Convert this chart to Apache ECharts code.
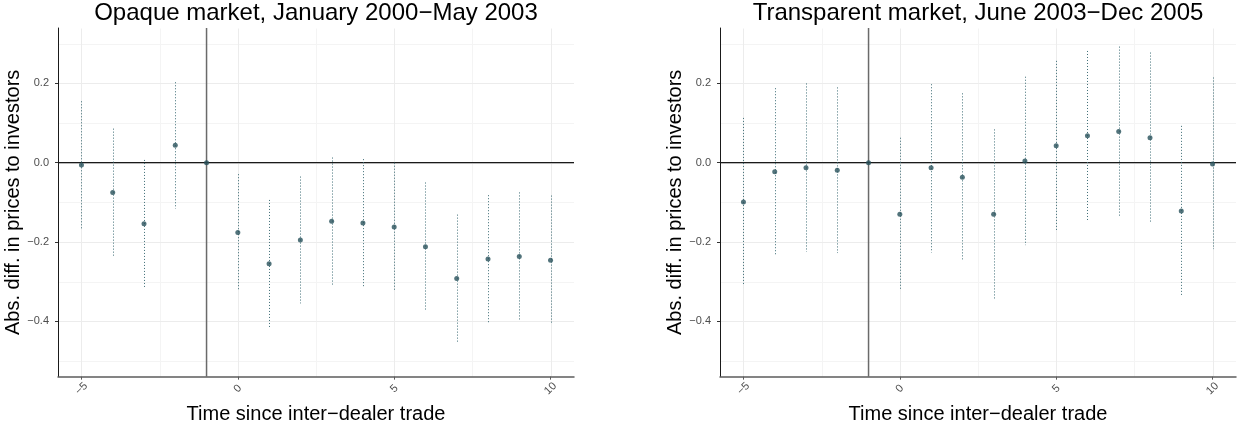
<!DOCTYPE html>
<html>
<head>
<meta charset="utf-8">
<script src="https://cdn.jsdelivr.net/npm/echarts@6/dist/echarts.min.js"></script>
<style>
  html, body { margin: 0; padding: 0; background: #ffffff; }
  #chart { width: 1239px; height: 429px; }
</style>
</head>
<body>
<div id="chart"></div>
<script>
// Event time relative to the inter-dealer trade
const steps = [-5, -4, -3, -2, -1, 0, 1, 2, 3, 4, 5, 6, 7, 8, 9, 10];

// Opaque market, January 2000 - May 2003: estimate and confidence band
const opaqueEst  = [-0.006, -0.075, -0.154, 0.044, 0, -0.176, -0.255, -0.195, -0.148, -0.152, -0.162, -0.212, -0.292, -0.243, -0.237, -0.246];
const opaqueLow  = [-0.167, -0.235, -0.315, -0.116, null, -0.323, -0.416, -0.355, -0.309, -0.313, -0.324, -0.373, -0.454, -0.405, -0.398, -0.408];
const opaqueHigh = [0.155, 0.086, 0.007, 0.203, null, -0.029, -0.094, -0.035, 0.013, 0.009, 0.000, -0.050, -0.131, -0.082, -0.075, -0.083];

// Transparent market, June 2003 - Dec 2005
const transEst  = [-0.099, -0.023, -0.013, -0.019, 0, -0.130, -0.013, -0.037, -0.130, 0.004, 0.043, 0.068, 0.079, 0.063, -0.122, -0.003];
const transLow  = [-0.310, -0.235, -0.225, -0.228, null, -0.323, -0.227, -0.248, -0.345, -0.208, -0.171, -0.148, -0.136, -0.153, -0.336, -0.218];
const transHigh = [0.113, 0.188, 0.200, 0.190, null, 0.063, 0.198, 0.175, 0.084, 0.217, 0.257, 0.282, 0.293, 0.278, 0.093, 0.215];

// Axis ticks and grid
const xTicks = [-5, 0, 5, 10];
const xMinorTicks = [-2.5, 2.5, 7.5];
const yTicks = [-0.4, -0.2, 0.0, 0.2];
const yMinorTicks = [-0.5, -0.3, -0.1, 0.1, 0.3];
const xRange = [-5.75, 10.75];
const yRange = [-0.54, 0.34];
const eventStep = -1;

const panelTitles = ['Opaque market, January 2000\u2212May 2003', 'Transparent market, June 2003\u2212Dec 2005'];
const xName = 'Time since inter\u2212dealer trade';
const yName = 'Abs. diff. in prices to investors';

const FONT = '"Liberation Sans", Arial, Helvetica, sans-serif';
const minus = s => String(s).replace('-', '\u2212');

const panels = [
  { est: opaqueEst, low: opaqueLow, high: opaqueHigh, left: 58 },
  { est: transEst, low: transLow, high: transHigh, left: 720 }
];
const plotW = 516, plotTop = 28, plotH = 352;

const grids = [], xAxes = [], yAxes = [], series = [], titles = [];

panels.forEach((p, i) => {
  grids.push({ left: p.left, top: plotTop, width: plotW, height: plotH, containLabel: false });
  titles.push({
    text: panelTitles[i], left: p.left + plotW / 2, top: 1, textAlign: 'center', padding: 0,
    textStyle: { fontFamily: FONT, fontSize: 24, fontWeight: 'normal', color: '#000' }
  });
  xAxes.push({
    type: 'value', gridIndex: i, min: xRange[0], max: xRange[1],
    name: xName, nameLocation: 'middle', nameGap: 23,
    nameTextStyle: { fontFamily: FONT, fontSize: 20, color: '#000' },
    axisLine: { onZero: false, lineStyle: { color: '#5c5c5c', width: 1.5 } },
    axisTick: { show: true, customValues: xTicks, length: 3, lineStyle: { color: '#5c5c5c' } },
    axisLabel: {
      customValues: xTicks, rotate: 45, align: 'center', verticalAlign: 'middle', margin: 12,
      fontFamily: FONT, fontSize: 11, color: '#4d4d4d', formatter: v => minus(v)
    },
    splitLine: { show: false }
  });
  yAxes.push({
    type: 'value', gridIndex: i, min: yRange[0], max: yRange[1],
    name: yName, nameLocation: 'middle', nameGap: 33,
    nameTextStyle: { fontFamily: FONT, fontSize: 20, color: '#000' },
    axisLine: { onZero: false, lineStyle: { color: '#1a1a1a', width: 1 } },
    axisTick: { show: true, customValues: yTicks, length: 3, lineStyle: { color: '#333' } },
    axisLabel: {
      customValues: yTicks, margin: 9, fontFamily: FONT, fontSize: 11, color: '#4d4d4d',
      formatter: v => minus(Number(v).toFixed(1))
    },
    splitLine: { show: false }
  });

  // background grid lines (vertical: [x, 'v'], horizontal: [y, 'h'])
  const gridData = [];
  xMinorTicks.forEach(v => gridData.push([v, 0, 'v', 0]));
  yMinorTicks.forEach(v => gridData.push([0, v, 'h', 0]));
  xTicks.forEach(v => gridData.push([v, 0, 'v', 1]));
  yTicks.forEach(v => gridData.push([0, v, 'h', 1]));
  series.push({
    type: 'custom', xAxisIndex: i, yAxisIndex: i, silent: true, z: 0, clip: true,
    data: gridData,
    renderItem: (params, api) => {
      const vert = api.value(2) === 'v';
      const major = api.value(3) === 1;
      const a = vert ? api.coord([api.value(0), yRange[1]]) : api.coord([xRange[0], api.value(1)]);
      const b = vert ? api.coord([api.value(0), yRange[0]]) : api.coord([xRange[1], api.value(1)]);
      return {
        type: 'line',
        shape: { x1: Math.round(a[0]) + 0.5, y1: Math.round(a[1]) + 0.5, x2: Math.round(b[0]) + 0.5, y2: Math.round(b[1]) + 0.5 },
        style: { stroke: major ? '#ececec' : '#f4f4f4', lineWidth: 1 }
      };
    }
  });

  // reference lines: zero difference and the inter-dealer trade
  series.push({
    type: 'custom', xAxisIndex: i, yAxisIndex: i, silent: true, z: 2,
    data: [[eventStep, 0, 'v'], [0, 0, 'h']],
    renderItem: (params, api) => {
      const vert = api.value(2) === 'v';
      const a = vert ? api.coord([api.value(0), yRange[1]]) : api.coord([xRange[0], api.value(1)]);
      const b = vert ? api.coord([api.value(0), yRange[0]]) : api.coord([xRange[1], api.value(1)]);
      return {
        type: 'line',
        shape: { x1: a[0], y1: a[1], x2: b[0], y2: b[1] },
        style: vert ? { stroke: '#6a6a6a', lineWidth: 1.5 } : { stroke: '#1a1a1a', lineWidth: 1.2 }
      };
    }
  });

  // dotted confidence intervals
  const ciData = [];
  steps.forEach((s, k) => { if (p.low[k] !== null) ciData.push([s, p.low[k], p.high[k]]); });
  series.push({
    type: 'custom', xAxisIndex: i, yAxisIndex: i, silent: true, z: 3,
    encode: { x: 0, y: [1, 2] },
    data: ciData,
    renderItem: (params, api) => {
      const lo = api.coord([api.value(0), api.value(1)]);
      const hi = api.coord([api.value(0), api.value(2)]);
      const x = Math.round(lo[0]) + 0.5;
      return {
        type: 'line',
        shape: { x1: x, y1: hi[1], x2: x, y2: lo[1] },
        style: { stroke: '#3e6d76', lineWidth: 1, lineDash: [1, 2] }
      };
    }
  });

  // point estimates
  series.push({
    type: 'scatter', xAxisIndex: i, yAxisIndex: i, z: 4,
    symbol: 'circle', symbolSize: 5,
    itemStyle: { color: '#27505a' },
    data: steps.map((s, k) => [s, p.est[k]])
  });
});

const chart = echarts.init(document.getElementById('chart'), null, { renderer: 'canvas' });
chart.setOption({
  animation: false,
  backgroundColor: '#ffffff',
  title: titles,
  grid: grids,
  xAxis: xAxes,
  yAxis: yAxes,
  series: series
});
</script>
</body>
</html>
